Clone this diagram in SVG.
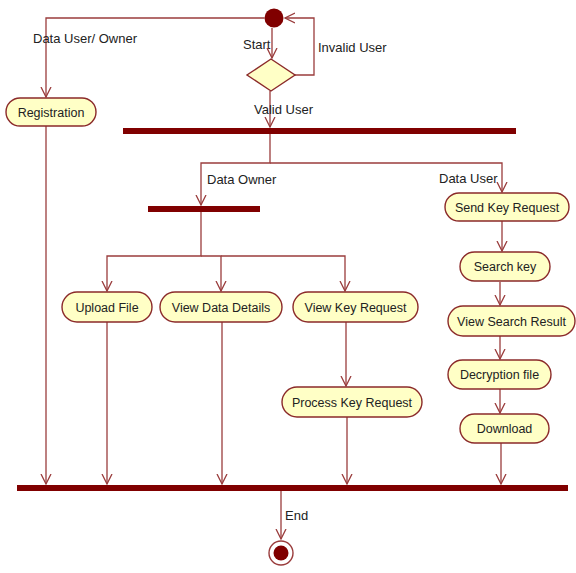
<svg xmlns="http://www.w3.org/2000/svg" width="576" height="573" viewBox="0 0 576 573">
<style>
.bg{fill:#ffffff}
.ln{fill:none;stroke:#9a3c3c;stroke-width:1.3}
.nd{fill:#ffffc6;stroke:#8b2a2a;stroke-width:1.4}
.bar{fill:#800000}
.t{font-family:"Liberation Sans",Arial,sans-serif;font-size:12.5px;fill:#222;text-anchor:middle}
.lb{font-family:"Liberation Sans",Arial,sans-serif;font-size:13px;fill:#222}
</style>
<defs>
<marker id="ar" viewBox="0 -6 11 12" refX="10" refY="0" markerWidth="11" markerHeight="12" markerUnits="userSpaceOnUse" orient="auto">
<path d="M0,-5 L10,0 L0,5" fill="none" stroke="#9a3c3c" stroke-width="1.3"/>
</marker>
</defs>
<rect class="bg" x="0" y="0" width="576" height="573"/>
<g id="connectors">
<path class="ln" d="M264.5,18 H46 V97" marker-end="url(#ar)"/>
<path class="ln" d="M272,28 V58" marker-end="url(#ar)"/>
<path class="ln" d="M295,75 H314 V18 H285" marker-end="url(#ar)"/>
<path class="ln" d="M270,91 V127" marker-end="url(#ar)"/>
<path class="ln" d="M270,134 V163 H201 V205" marker-end="url(#ar)"/>
<path class="ln" d="M270,163 H502 V192" marker-end="url(#ar)"/>
<path class="ln" d="M201,212 V256 H107 V291" marker-end="url(#ar)"/>
<path class="ln" d="M201,256 H221 V291" marker-end="url(#ar)"/>
<path class="ln" d="M221,256 H345 V291" marker-end="url(#ar)"/>
<path class="ln" d="M502,221 V251" marker-end="url(#ar)"/>
<path class="ln" d="M500,282 V305" marker-end="url(#ar)"/>
<path class="ln" d="M500,336 V359" marker-end="url(#ar)"/>
<path class="ln" d="M500,389 V413" marker-end="url(#ar)"/>
<path class="ln" d="M46,126 V484" marker-end="url(#ar)"/>
<path class="ln" d="M107,322 V484" marker-end="url(#ar)"/>
<path class="ln" d="M222,322 V484" marker-end="url(#ar)"/>
<path class="ln" d="M346,322 V386" marker-end="url(#ar)"/>
<path class="ln" d="M347,417 V484" marker-end="url(#ar)"/>
<path class="ln" d="M501,443 V484" marker-end="url(#ar)"/>
<path class="ln" d="M281,491 V539" marker-end="url(#ar)"/>
<text class="lb" x="33" y="43">Data User/ Owner</text>
<text class="lb" x="243" y="49">Start</text>
<text class="lb" x="318" y="52">Invalid User</text>
<text class="lb" x="254" y="114">Valid User</text>
<text class="lb" x="207" y="184">Data Owner</text>
<text class="lb" x="439" y="183">Data User</text>
<text class="lb" x="285" y="520">End</text>
</g>
<g id="start"><circle cx="274" cy="18" r="9.5" fill="#800000"/></g>
<g id="decision"><polygon class="nd" points="271,59 295,75 271,91 247,75"/></g>
<g id="bar1"><rect class="bar" x="123" y="128" width="393" height="6"/></g>
<g id="bar2"><rect class="bar" x="148" y="206" width="112" height="6"/></g>
<g id="bar3"><rect class="bar" x="17" y="485" width="551" height="6"/></g>
<g id="registration"><rect class="nd" x="6" y="98" width="90" height="28" rx="14"/><text class="t" x="51" y="116.5">Registration</text></g>
<g id="upload"><rect class="nd" x="62" y="292" width="90" height="30" rx="15"/><text class="t" x="107" y="311.5">Upload File</text></g>
<g id="viewdata"><rect class="nd" x="160" y="292" width="122" height="30" rx="15"/><text class="t" x="221" y="311.5">View Data Details</text></g>
<g id="viewkey"><rect class="nd" x="293" y="292" width="125" height="30" rx="15"/><text class="t" x="355.5" y="311.5">View Key Request</text></g>
<g id="processkey"><rect class="nd" x="282" y="387" width="140" height="30" rx="15"/><text class="t" x="352" y="406.5">Process Key Request</text></g>
<g id="sendkey"><rect class="nd" x="445" y="193" width="124" height="28" rx="14"/><text class="t" x="507" y="211.5">Send Key Request</text></g>
<g id="searchkey"><rect class="nd" x="460" y="252" width="90" height="29" rx="14.5"/><text class="t" x="505" y="271">Search key</text></g>
<g id="viewsearch"><rect class="nd" x="448" y="306" width="127" height="30" rx="15"/><text class="t" x="511.5" y="325.5">View Search Result</text></g>
<g id="decrypt"><rect class="nd" x="448" y="360" width="103" height="29" rx="14.5"/><text class="t" x="499.5" y="379">Decryption file</text></g>
<g id="download"><rect class="nd" x="460" y="414" width="89" height="29" rx="14.5"/><text class="t" x="504.5" y="433">Download</text></g>
<g id="end"><circle cx="281" cy="553" r="12" fill="#ffffff" stroke="#9a3c3c" stroke-width="1.4"/><circle cx="281" cy="553" r="7.5" fill="#800000"/></g>
</svg>
